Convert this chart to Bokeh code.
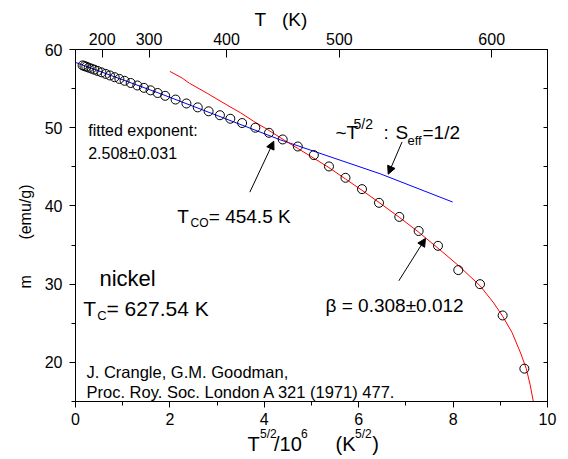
from bokeh.plotting import figure
from bokeh.models import (LinearAxis, SingleIntervalTicker, FixedTicker, Label, Title,
                          Arrow, NormalHead, CustomJSTickFormatter)
from bokeh.embed import file_html
from bokeh.resources import INLINE

# ---- data (x = T^{5/2}/10^6, y = m in emu/g) ----
meas_x = [0.15, 0.19, 0.23, 0.28, 0.34, 0.40, 0.47, 0.55, 0.64, 0.73, 0.83, 0.93,
          1.04, 1.17, 1.31, 1.45, 1.59, 1.74, 1.90, 2.12, 2.35, 2.59, 2.82, 3.06,
          3.28, 3.53, 3.81, 4.10, 4.39, 4.71, 5.05, 5.37, 5.72, 6.07, 6.43, 6.86,
          7.27, 7.68, 8.11, 8.57, 9.05, 9.51]
meas_m = [57.97, 57.88, 57.8, 57.68, 57.55, 57.42, 57.26, 57.08, 56.88, 56.68, 56.46, 56.24,
          56.0, 55.72, 55.4, 55.1, 54.78, 54.44, 54.08, 53.6, 53.1, 52.6, 52.1, 51.6,
          51.15, 50.6, 50.0, 49.35, 48.5, 47.6, 46.5, 45.05, 43.6, 42.15, 40.4, 38.6,
          36.8, 34.9, 31.8, 30.0, 26.0, 19.2]

spinwave_x = [0.0, 1.8, 4.34, 6.46, 7.99]
spinwave_m = [58.35, 54.35, 48.45, 44.1, 40.5]

critical_x = [2.00, 2.26, 2.41, 2.79, 3.21, 3.50, 3.78, 4.06, 4.40, 4.71, 5.05, 5.37,
              5.72, 6.07, 6.43, 6.86, 7.27, 7.68, 8.11, 8.57, 8.86, 9.05, 9.25, 9.43,
              9.55, 9.63, 9.70]
critical_m = [57.2, 56.35, 55.7, 54.4, 52.9, 51.9, 50.8, 49.8, 48.5, 47.35, 46.1, 44.9,
              43.45, 42.0, 40.45, 38.55, 36.65, 34.6, 32.4, 29.8, 27.6, 25.9, 23.8, 21.2,
              19.2, 17.2, 15.0]

top_tick_T = [200, 300, 400, 500, 600]

# x-axis title pieces (main text and superscripts)
xtitle_main = ["T", "/10", "(K", ")"]
xtitle_sup = ["5/2", "6", "5/2"]

FONT = "Liberation Sans"
NB = "\u00a0"

p = figure(width=568, height=459, x_range=(0, 10), y_range=(15, 60),
           output_backend="svg", toolbar_location=None,
           min_border_left=75, min_border_right=21, min_border_top=49, min_border_bottom=58,
           x_axis_location=None, y_axis_location=None)
p.grid.visible = False
p.outline_line_color = "black"
p.outline_line_width = 1
p.background_fill_color = "white"
p.border_fill_color = "white"

# ---- axes ----
left = LinearAxis(ticker=SingleIntervalTicker(interval=10, num_minor_ticks=2))
left.major_tick_in = 0
left.major_tick_out = 6
left.minor_tick_in = 0
left.minor_tick_out = 4
left.major_label_standoff = 7
left.major_label_text_font = FONT
left.major_label_text_font_size = "16px"
left.major_label_text_color = "black"
p.add_layout(left, "left")

p.add_layout(Title(text="m" + NB * 8 + "(emu/g)", align="left", offset=113, standoff=16,
                   text_font=FONT, text_font_size="16px", text_font_style="normal",
                   text_color="black"), "left")

bottom = LinearAxis(ticker=SingleIntervalTicker(interval=2, num_minor_ticks=2))
bottom.major_tick_in = 0
bottom.major_tick_out = 6
bottom.minor_tick_in = 0
bottom.minor_tick_out = 4
bottom.major_label_standoff = 5
bottom.major_label_text_font = FONT
bottom.major_label_text_font_size = "16px"
bottom.major_label_text_color = "black"
p.add_layout(bottom, "below")


def text_axis(positions, texts, size, standoff):
    ax = LinearAxis(ticker=FixedTicker(ticks=positions, minor_ticks=[]))
    ax.major_label_overrides = {pos: t for pos, t in zip(positions, texts)}
    ax.axis_line_color = None
    ax.major_tick_line_color = None
    ax.minor_tick_line_color = None
    ax.major_tick_in = 0
    ax.major_tick_out = 0
    ax.minor_tick_in = 0
    ax.minor_tick_out = 0
    ax.major_label_standoff = standoff
    ax.major_label_text_font = FONT
    ax.major_label_text_font_size = f"{size}px"
    ax.major_label_text_color = "black"
    return ax


# x-axis title: superscript row, then main row (centres in data units)
p.add_layout(text_axis([4.085, 4.848, 6.098], xtitle_sup, 12, -1), "below")
p.add_layout(text_axis([3.773, 4.500, 5.720, 6.356], xtitle_main, 20, -11), "below")

top_pos = [t ** 2.5 / 1e6 for t in top_tick_T]
top = LinearAxis(ticker=FixedTicker(ticks=top_pos, minor_ticks=[]))
top.major_label_overrides = {pos: str(t) for pos, t in zip(top_pos, top_tick_T)}
top.major_tick_in = 8
top.major_tick_out = 0
top.major_label_standoff = 5
top.major_label_text_font = FONT
top.major_label_text_font_size = "16px"
top.major_label_text_color = "black"
p.add_layout(top, "above")

p.add_layout(Title(text="T" + NB * 3 + "(K)", align="left", offset=179, standoff=0,
                   text_font=FONT, text_font_size="19px", text_font_style="normal",
                   text_color="black"), "above")

right = LinearAxis(ticker=FixedTicker(ticks=[20, 25, 30, 35, 40, 45, 50, 55], minor_ticks=[]))
right.major_tick_in = 4
right.major_tick_out = 0
right.formatter = CustomJSTickFormatter(code="return ''")
p.add_layout(right, "right")

# ---- curves and points ----
p.line(spinwave_x, spinwave_m, line_color="#0000ff", line_width=1)
p.line(critical_x, critical_m, line_color="#ff0000", line_width=1)
p.scatter(meas_x, meas_m, marker="circle", size=9, fill_color=None,
          line_color="black", line_width=1)


def lab(x, y, text, size):
    p.add_layout(Label(x=x, y=y, text=text, text_font=FONT, text_font_size=f"{size}px",
                       text_color="black", text_align="left", text_baseline="alphabetic"))


# ---- annotations inside the frame (data coordinates) ----
lab(0.269, 49.62, "fitted exponent:", 16)
lab(0.269, 46.75, "2.508\u00b10.031", 16)

lab(5.508, 49.34, "~T", 19)
lab(5.89, 50.45, "5/2", 14)
lab(6.525, 49.34, ":", 19)
lab(6.78, 49.34, "S", 19)
lab(7.034, 48.41, "eff", 13)
lab(7.352, 49.34, "=1/2", 19)

lab(2.155, 38.61, "T", 19)
lab(2.436, 37.8, "CO", 12)
lab(2.824, 38.61, "= 454.5 K", 19)

lab(0.508, 30.73, "nickel", 22)
lab(0.163, 26.94, "T", 21)
lab(0.46, 26.04, "C", 13)
lab(0.657, 26.94, "= 627.54 K", 21)

lab(5.297, 27.23, "\u03b2 = 0.308\u00b10.012", 19)

lab(0.233, 18.8, "J. Crangle, G.M. Goodman,", 16.5)
lab(0.233, 16.17, "Proc. Roy. Soc. London A 321 (1971) 477.", 16.5)

for xs, ys, xe, ye in [(6.919, 48.19, 6.625, 44.06),
                       (3.693, 41.76, 4.201, 48.28),
                       (6.850, 30.43, 7.415, 35.85)]:
    p.add_layout(Arrow(x_start=xs, y_start=ys, x_end=xe, y_end=ye, line_color="black",
                       line_width=1,
                       end=NormalHead(size=8, fill_color="black", line_color="black")))

open("out.html", "w").write(file_html(p, INLINE))
